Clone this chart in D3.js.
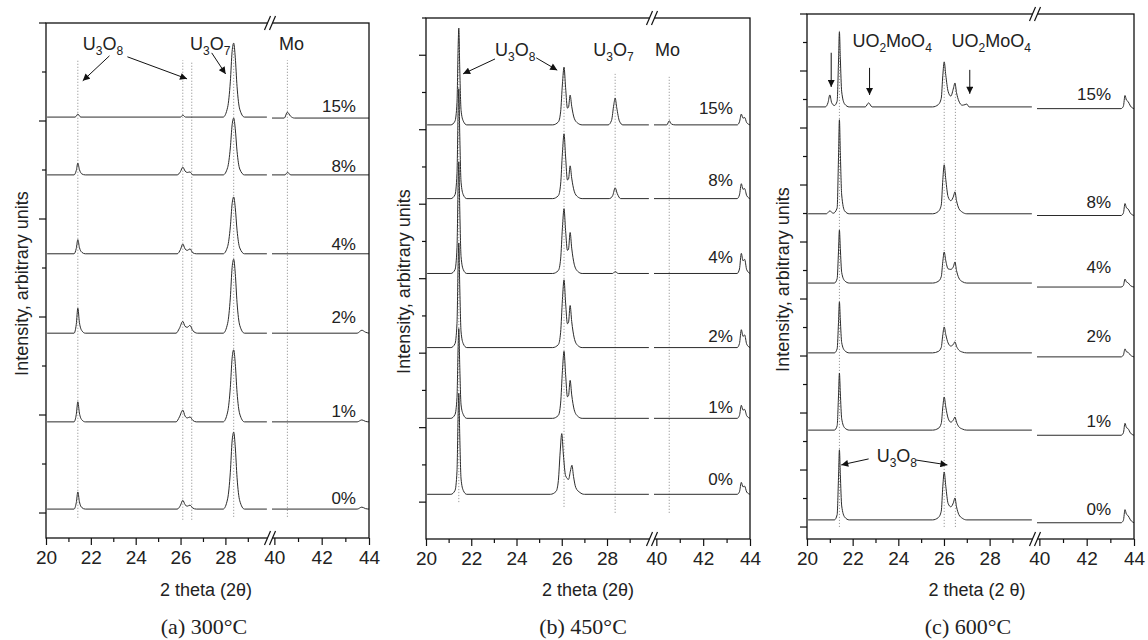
<!DOCTYPE html>
<html><head><meta charset="utf-8">
<script src="https://cdn.jsdelivr.net/npm/d3@7"></script>
<style>body{margin:0;background:#fff}svg{display:block}</style>
</head><body>
<svg id="chart" width="1148" height="640"></svg>
<script>
// ---------------- DATA ----------------
const seriesLabels = ["15%", "8%", "4%", "2%", "1%", "0%"];
const xMajorTicks = [20, 22, 24, 26, 28, 40, 42, 44];
const xMinorTicks = [21, 23, 25, 27, 29, 41, 43];
const xTickLabels = ["20", "22", "24", "26", "28", "40", "42", "44"];

// Panel (a) 300°C
const offsetsA = [808, 690, 529, 367, 186, 8];
const labelYA = [818, 696, 537, 388, 196, 18];
const tracesA = [
 [[20.05,0],[21.3,0],[21.42,6],[21.55,0],[26.0,0],[26.1,4],[26.22,0],[27.9,0],[28.1,20],[28.22,72],[28.3,134],[28.37,151],[28.44,122],[28.52,62],[28.64,16],[28.85,0],[29.85,0],[39.9,-2],[40.42,-2],[40.55,10],[40.68,2],[40.85,-2],[44,-2]],
 [[20.05,0],[21.25,0],[21.35,9],[21.42,24],[21.49,11],[21.6,2],[21.75,0],[25.85,0],[26.0,7],[26.1,16],[26.2,8],[26.3,5],[26.42,6],[26.55,0],[27.9,0],[28.1,15],[28.22,55],[28.3,102],[28.37,116],[28.44,94],[28.52,48],[28.64,12],[28.85,0],[29.85,0],[39.9,0],[40.45,0],[40.55,5],[40.7,0],[44,0]],
 [[20.05,0],[21.25,0],[21.35,11],[21.42,29],[21.49,13],[21.6,3],[21.75,0],[25.85,0],[26.0,9],[26.1,20],[26.2,10],[26.3,7],[26.42,10],[26.55,2],[26.7,0],[27.9,0],[28.1,15],[28.22,55],[28.3,102],[28.37,116],[28.44,94],[28.52,48],[28.64,12],[28.85,0],[29.85,0],[39.9,0],[44,0]],
 [[20.05,0],[21.25,0],[21.35,18],[21.42,51],[21.49,22],[21.6,5],[21.75,0],[25.8,0],[25.95,10],[26.1,24],[26.2,14],[26.3,12],[26.42,16],[26.55,5],[26.75,0],[27.9,0],[28.1,20],[28.22,72],[28.3,134],[28.37,151],[28.44,122],[28.52,62],[28.64,16],[28.85,0],[29.85,0],[39.9,0],[43.5,0],[43.7,6],[43.85,2],[44,0]],
 [[20.05,0],[21.25,0],[21.35,15],[21.42,41],[21.49,18],[21.6,4],[21.75,0],[25.8,0],[25.95,10],[26.1,24],[26.2,12],[26.3,8],[26.42,10],[26.55,3],[26.7,0],[27.9,0],[28.1,20],[28.22,70],[28.3,130],[28.37,147],[28.44,119],[28.52,60],[28.64,16],[28.85,0],[29.85,0],[39.9,0],[43.5,0],[43.7,4],[43.85,1],[44,0]],
 [[20.05,0],[21.25,0],[21.35,13],[21.42,35],[21.49,15],[21.6,3],[21.75,0],[25.85,0],[26.0,8],[26.1,18],[26.2,9],[26.3,6],[26.42,8],[26.55,2],[26.7,0],[27.9,0],[28.1,21],[28.22,75],[28.3,139],[28.37,157],[28.44,127],[28.52,64],[28.64,17],[28.85,0],[29.85,0],[39.9,0],[43.5,0],[43.7,4],[43.85,1],[44,0]]
];
const refLinesA = [[21.42, -10, 924], [26.1, -14, 924], [26.5, -14, 920], [28.37, -8, 955], [40.55, -8, 924]];

// Panel (b) 450°C
const offsetsB = [1013, 815, 614, 415, 225, 21];
const labelYB = [1043, 850, 641, 429, 239, 46];
const tracesB = [
 [[20.05,0],[21.1,0],[21.28,10],[21.37,60],[21.42,208],[21.45,260],[21.49,156],[21.55,39],[21.65,10],[21.8,0],[25.6,0],[25.85,8],[25.95,35],[26.03,110],[26.1,155],[26.17,100],[26.25,45],[26.3,48],[26.37,80],[26.44,50],[26.55,18],[26.7,5],[26.9,0],[28.05,0],[28.2,12],[28.3,54],[28.36,72],[28.43,46],[28.55,10],[28.7,0],[29.85,0],[39.9,0],[40.45,0],[40.55,11],[40.65,2],[40.8,0],[43.45,0],[43.55,8],[43.63,29],[43.7,18],[43.77,20],[43.86,6],[44,0]],
 [[20.05,0],[21.1,0],[21.28,10],[21.37,68],[21.42,236],[21.45,295],[21.49,177],[21.55,44],[21.65,10],[21.8,0],[25.6,0],[25.85,8],[25.95,39],[26.03,123],[26.1,174],[26.17,112],[26.25,50],[26.3,53],[26.37,88],[26.44,55],[26.55,20],[26.7,5],[26.9,0],[28.1,0],[28.25,8],[28.36,29],[28.45,14],[28.6,0],[29.85,0],[39.9,0],[43.45,0],[43.55,10],[43.63,40],[43.7,25],[43.77,27],[43.86,8],[44,0]],
 [[20.05,0],[21.1,0],[21.28,10],[21.37,69],[21.42,240],[21.45,300],[21.49,180],[21.55,45],[21.65,10],[21.8,0],[25.6,0],[25.85,8],[25.95,39],[26.03,123],[26.1,174],[26.17,115],[26.25,62],[26.3,66],[26.37,110],[26.44,68],[26.55,25],[26.7,6],[26.9,0],[28.25,0],[28.36,5],[28.5,0],[29.85,0],[39.9,0],[43.45,0],[43.55,12],[43.63,54],[43.7,34],[43.77,38],[43.86,10],[44,0]],
 [[20.05,0],[21.1,0],[21.28,10],[21.37,65],[21.42,225],[21.45,281],[21.49,169],[21.55,42],[21.65,10],[21.8,0],[25.6,0],[25.85,8],[25.95,41],[26.03,129],[26.1,182],[26.17,120],[26.25,64],[26.3,68],[26.37,113],[26.44,70],[26.55,26],[26.7,6],[26.9,0],[29.85,0],[39.9,0],[43.45,0],[43.55,11],[43.63,48],[43.7,30],[43.77,34],[43.86,9],[44,0]],
 [[20.05,0],[21.1,0],[21.28,10],[21.37,56],[21.42,193],[21.45,241],[21.49,145],[21.55,36],[21.65,10],[21.8,0],[25.6,0],[25.85,8],[25.95,41],[26.03,128],[26.1,180],[26.17,118],[26.25,58],[26.3,61],[26.37,102],[26.44,63],[26.55,23],[26.7,6],[26.9,0],[29.85,0],[39.9,0],[43.45,0],[43.55,8],[43.63,35],[43.7,22],[43.77,24],[43.86,7],[44,0]],
 [[20.05,0],[21.1,0],[21.28,10],[21.37,62],[21.42,217],[21.45,271],[21.49,163],[21.55,41],[21.65,10],[21.8,0],[25.5,0],[25.75,8],[25.85,37],[25.93,114],[26.0,163],[26.07,108],[26.17,50],[26.3,40],[26.38,62],[26.45,78],[26.52,48],[26.62,18],[26.8,5],[27.0,0],[29.85,0],[39.9,0],[43.45,0],[43.55,7],[43.63,32],[43.7,20],[43.77,22],[43.86,6],[44,0]]
];
const refLinesB = [[21.45, 0, 1265], [26.1, -13, 1168], [28.36, -29, 1150], [40.55, -29, 1142]];

// Panel (c) 600°C
const offsetsC = [1474, 1099, 856, 611, 340, 25];
const labelYC = [1499, 1120, 892, 649, 351, 42];
const tracesC = [
 [[20.05,0],[20.8,0],[20.92,15],[21.0,42],[21.08,15],[21.2,5],[21.32,20],[21.38,158],[21.42,263],[21.46,171],[21.52,53],[21.65,10],[21.85,0],[22.55,0],[22.7,14],[22.85,0],[25.5,0],[25.75,8],[25.88,30],[25.95,111],[26.01,158],[26.08,111],[26.18,55],[26.3,38],[26.42,67],[26.48,84],[26.55,50],[26.65,21],[26.8,6],[26.92,8],[27.0,10],[27.1,0],[29.85,0],[39.9,-6],[43.45,-6],[43.55,2],[43.62,40],[43.68,24],[43.75,19],[43.85,3],[44,-6]],
 [[20.05,0],[20.85,0],[21.0,10],[21.15,2],[21.32,20],[21.38,198],[21.42,330],[21.46,215],[21.52,66],[21.65,10],[21.85,0],[25.5,0],[25.75,8],[25.88,30],[25.95,120],[26.01,172],[26.08,120],[26.18,60],[26.3,46],[26.42,62],[26.48,77],[26.55,46],[26.65,19],[26.8,6],[27.0,0],[29.85,0],[39.9,-6],[43.45,-6],[43.55,2],[43.62,36],[43.68,21],[43.75,17],[43.85,2],[44,-6]],
 [[20.05,0],[21.2,0],[21.32,15],[21.38,112],[21.42,186],[21.46,121],[21.52,37],[21.65,8],[21.85,0],[25.5,0],[25.75,6],[25.88,22],[25.95,76],[26.01,109],[26.08,78],[26.18,50],[26.3,48],[26.42,59],[26.48,74],[26.55,44],[26.65,18],[26.8,5],[27.0,0],[29.85,0],[39.9,-14],[43.45,-14],[43.55,-9],[43.62,14],[43.68,4],[43.75,1],[43.85,-9],[44,-14]],
 [[20.05,0],[21.2,0],[21.32,14],[21.38,107],[21.42,179],[21.46,116],[21.52,36],[21.65,8],[21.85,0],[25.5,0],[25.75,5],[25.88,19],[25.95,64],[26.01,91],[26.08,64],[26.18,35],[26.3,24],[26.42,31],[26.48,39],[26.55,23],[26.65,10],[26.8,3],[27.0,0],[29.85,0],[39.9,-14],[43.45,-14],[43.55,-8],[43.62,14],[43.68,4],[43.75,2],[43.85,-8],[44,-14]],
 [[20.05,0],[21.2,0],[21.32,15],[21.38,120],[21.42,200],[21.46,130],[21.52,40],[21.65,8],[21.85,0],[25.5,0],[25.75,6],[25.88,23],[25.95,81],[26.01,116],[26.08,81],[26.18,42],[26.3,28],[26.42,37],[26.48,46],[26.55,28],[26.65,12],[26.8,4],[27.0,0],[29.85,0],[39.9,-18],[43.45,-18],[43.55,-10],[43.62,24],[43.68,9],[43.75,5],[43.85,-10],[44,-18]],
 [[20.05,0],[21.2,0],[21.32,18],[21.38,148],[21.42,246],[21.46,160],[21.52,49],[21.65,10],[21.85,0],[25.5,0],[25.75,8],[25.88,30],[25.95,118],[26.01,168],[26.08,118],[26.18,58],[26.3,46],[26.42,62],[26.48,77],[26.55,46],[26.65,19],[26.8,6],[27.0,0],[29.85,0],[39.9,-10],[43.45,-10],[43.55,-2],[43.62,36],[43.68,20],[43.75,15],[43.85,0],[44,-10]]
];
const refLinesC = [[21.42, 0, 1744], [26.01, 0, 1632], [26.5, 0, 1558]];

// Annotations: text pieces [string, isSubscript], anchored in data units
const annTextA = [
 {x: 21.64, y: 945, parts: [["U",0],["3",1],["O",0],["8",1]]},
 {x: 26.42, y: 945, parts: [["U",0],["3",1],["O",0],["7",1]]},
 {x: 40.2, y: 945, parts: [["Mo",0]]}
];
const annArrowsA = [[22.83, 933, 21.64, 882], [23.63, 931, 26.29, 886], [27.39, 939, 28.01, 896]];
const annTextB = [
 {x: 23.05, y: 1198, parts: [["U",0],["3",1],["O",0],["8",1]]},
 {x: 27.39, y: 1198, parts: [["U",0],["3",1],["O",0],["7",1]]},
 {x: 39.94, y: 1198, parts: [["Mo",0]]}
];
const annArrowsB = [[23.05, 1190, 21.64, 1150], [24.87, 1193, 25.8, 1160]];
const annTextC = [
 {x: 21.99, y: 1685, parts: [["UO",0],["2",1],["MoO",0],["4",1]]},
 {x: 26.33, y: 1685, parts: [["UO",0],["2",1],["MoO",0],["4",1]]},
 {x: 23.05, y: 228, parts: [["U",0],["3",1],["O",0],["8",1]]}
];
const annArrowsC = [[21.06, 1664, 21.06, 1544], [22.74, 1611, 22.74, 1516], [27.13, 1604, 27.13, 1520], [22.7, 239, 21.5, 218], [24.78, 235, 26.15, 218]];

// ---------------- LAYOUT ----------------
const panels = [
 {box: {left: 46, right: 369, top: 23, bottom: 538, brk: 270}, yDomain: [-51, 1000], yMax: 1000,
  offsets: offsetsA, traces: tracesA, labelY: labelYA, labelX: 43.45, refs: refLinesA,
  annText: annTextA, annArrows: annArrowsA, caption: "(a) 300°C", capX: 204, xTitle: "2 theta (2θ)", xTitleX: 206, yTitleX: 28},
 {box: {left: 426, right: 750, top: 18, bottom: 539, brk: 652}, yDomain: [-99, 1300], yMax: 1300,
  offsets: offsetsB, traces: tracesB, labelY: labelYB, labelX: 43.27, refs: refLinesB,
  annText: annTextB, annArrows: annArrowsB, caption: "(b) 450°C", capX: 583, xTitle: "2 theta (2θ)", xTitleX: 588, yTitleX: 410},
 {box: {left: 807, right: 1134, top: 14, bottom: 539, brk: 1035}, yDomain: [-42, 1800], yMax: 1800,
  offsets: offsetsC, traces: tracesC, labelY: labelYC, labelX: 43.03, refs: refLinesC,
  annText: annTextC, annArrows: annArrowsC, caption: "(c) 600°C", capX: 968, xTitle: "2 theta (2 θ)", xTitleX: 977, yTitleX: 789}
];

const SANS = "'Liberation Sans', Arial, Helvetica, sans-serif";
const SERIF = "'Liberation Serif', 'Times New Roman', serif";
const svg = d3.select("#chart");
svg.append("rect").attr("width", 1148).attr("height", 640).attr("fill", "#fff");
const defs = svg.append("defs");
defs.append("marker").attr("id", "ah").attr("viewBox", "0 0 10 10")
  .attr("refX", 10).attr("refY", 5).attr("markerWidth", 8).attr("markerHeight", 7)
  .attr("markerUnits", "userSpaceOnUse").attr("orient", "auto")
  .append("path").attr("d", "M0,0 L10,5 L0,10 z").attr("fill", "#111");

panels.forEach(p => {
  const b = p.box;
  const g = svg.append("g");
  const s1 = d3.scaleLinear().domain([20, 29.9]).range([b.left, b.brk - 2]);
  const s2 = d3.scaleLinear().domain([39.9, 44]).range([b.brk + 2, b.right]);
  const X = v => v < 35 ? s1(v) : s2(v);
  const Y = d3.scaleLinear().domain(p.yDomain).range([b.bottom, b.top]);

  // reference dotted lines
  g.selectAll("line.ref").data(p.refs).join("line")
    .attr("x1", d => X(d[0])).attr("x2", d => X(d[0]))
    .attr("y1", d => Y(d[1])).attr("y2", d => Y(d[2]))
    .attr("stroke", "#9a9a9a").attr("stroke-width", 1).attr("stroke-dasharray", "1.2,1.8");

  // traces
  const line = d3.line().x(d => X(d[0])).y(d => Y(d[1])).curve(d3.curveMonotoneX);
  p.traces.forEach((tr, i) => {
    const pts = tr.map(d => [d[0], d[1] + p.offsets[i]]);
    [pts.filter(d => d[0] < 35), pts.filter(d => d[0] > 35)].forEach(seg => {
      g.append("path").attr("d", line(seg)).attr("fill", "none")
        .attr("stroke", "#2b2b2b").attr("stroke-width", 1).attr("stroke-linejoin", "round");
    });
  });

  // series labels
  g.selectAll("text.lab").data(seriesLabels).join("text")
    .attr("x", X(p.labelX)).attr("y", (d, i) => Y(p.labelY[i]))
    .attr("text-anchor", "end").attr("font-family", SANS).attr("font-size", 17).attr("fill", "#222")
    .text(d => d);

  // y axis ticks
  const yT = d3.range(0, p.yMax + 1, 100);
  const yAxG = g.append("g").attr("transform", `translate(${b.left},0)`);
  yAxG.selectAll("line").data(yT).join("line")
    .attr("x1", d => (d / 100) % 2 === 0 ? -7 : -4).attr("x2", 0)
    .attr("y1", d => Y(d)).attr("y2", d => Y(d))
    .attr("stroke", "#111").attr("stroke-width", 1.2);

  // x axis (two segments)
  [[s1, [20, 22, 24, 26, 28], [21, 23, 25, 27, 29]], [s2, [40, 42, 44], [41, 43]]].forEach(([sc, maj, min]) => {
    const ax = d3.axisBottom(sc).tickValues(maj).tickSize(7).tickPadding(6)
      .tickFormat(v => xTickLabels[xMajorTicks.indexOf(v)]);
    const ag = g.append("g").attr("transform", `translate(0,${b.bottom})`).call(ax);
    ag.select(".domain").remove();
    ag.selectAll("line").attr("stroke", "#111").attr("stroke-width", 1.2);
    ag.selectAll("text").attr("font-family", SANS).attr("font-size", 19).attr("fill", "#222");
    const axm = d3.axisBottom(sc).tickValues(min).tickSize(4).tickFormat("");
    const mg = g.append("g").attr("transform", `translate(0,${b.bottom})`).call(axm);
    mg.select(".domain").remove();
    mg.selectAll("line").attr("stroke", "#111").attr("stroke-width", 1.2);
  });

  // frame
  g.append("rect").attr("x", b.left).attr("y", b.top)
    .attr("width", b.right - b.left).attr("height", b.bottom - b.top)
    .attr("fill", "none").attr("stroke", "#111").attr("stroke-width", 1.3);

  // axis break marks
  [b.top, b.bottom].forEach(yy => {
    g.append("rect").attr("x", b.brk - 2.5).attr("y", yy - 2).attr("width", 5).attr("height", 4).attr("fill", "#fff");
    [-2.5, 2.5].forEach(dx => {
      g.append("line").attr("x1", b.brk + dx - 3).attr("y1", yy + 7)
        .attr("x2", b.brk + dx + 3).attr("y2", yy - 7)
        .attr("stroke", "#111").attr("stroke-width", 1.2);
    });
  });

  // annotations
  p.annText.forEach(a => {
    const t = g.append("text").attr("x", X(a.x)).attr("y", Y(a.y))
      .attr("font-family", SANS).attr("font-size", 18).attr("fill", "#222");
    let sub = false;
    a.parts.forEach(([s, isSub]) => {
      const ts = t.append("tspan").text(s).attr("font-size", isSub ? 12 : 18);
      if (isSub && !sub) ts.attr("dy", 5);
      if (!isSub && sub) ts.attr("dy", -5);
      sub = !!isSub;
    });
  });
  p.annArrows.forEach(a => {
    g.append("line").attr("x1", X(a[0])).attr("y1", Y(a[1]))
      .attr("x2", X(a[2])).attr("y2", Y(a[3]))
      .attr("stroke", "#111").attr("stroke-width", 1).attr("marker-end", "url(#ah)");
  });

  // axis titles
  g.append("text").attr("x", p.xTitleX).attr("y", 596).attr("text-anchor", "middle")
    .attr("font-family", SANS).attr("font-size", 18).attr("fill", "#222").text(p.xTitle);
  const cy = (b.top + b.bottom) / 2 + 3;
  g.append("text").attr("transform", `translate(${p.yTitleX},${cy}) rotate(-90)`)
    .attr("text-anchor", "middle").attr("font-family", SANS).attr("font-size", 18).attr("fill", "#222")
    .text("Intensity, arbitrary units");
  g.append("text").attr("x", p.capX).attr("y", 634).attr("text-anchor", "middle")
    .attr("font-family", SERIF).attr("font-size", 22).attr("fill", "#222").text(p.caption);
});
</script>
</body></html>
